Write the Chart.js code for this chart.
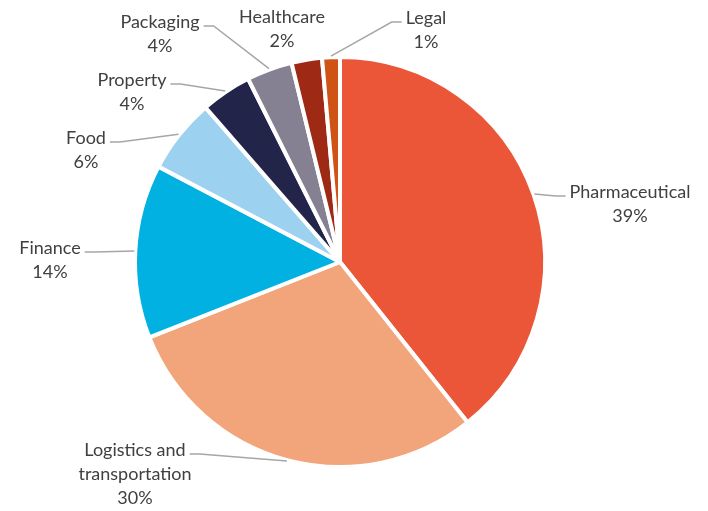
<!DOCTYPE html>
<html lang="en">
<head>
  <meta charset="UTF-8">
  <title>Sector share</title>
  <script src="https://cdn.jsdelivr.net/npm/chart.js"></script>
  <style>
    body { margin: 0; padding: 0; background: #fff; }
    .chart-box { width: 708px; height: 511px; position: relative; }
  </style>
</head>
<body>
<div class="chart-box"><canvas id="sectorChart"></canvas></div>

<script>
  // data
  const categories = ['Pharmaceutical', ['Logistics and', 'transportation'], 'Finance', 'Food', 'Property', 'Packaging', 'Healthcare', 'Legal'];
  const shares = [39.3, 29.7, 13.7, 5.9, 4.0, 3.6, 2.4, 1.4];
  const sliceColors = ['#EA5637', '#F2A47A', '#00B1E1', '#9CD2F0', '#22244A', '#858193', '#9E2A16', '#D05316'];

  // where each label sits (center of first text line) and whether it has a leader line
  const labelLayout = [
    { x: 630, y: 192, leader: true },
    { x: 135, y: 450, leader: true },
    { x: 50,  y: 248, leader: true },
    { x: 86,  y: 138, leader: true },
    { x: 132, y: 80,  leader: true },
    { x: 160, y: 22,  leader: true },
    { x: 282, y: 17,  leader: false },
    { x: 426, y: 18,  leader: true }
  ];

  const labelFont = '18px Lato';
  const lineGap = 24;

  const outsideLabels = {
    id: 'outsideLabels',
    afterDatasetsDraw(chart) {
      const ctx = chart.ctx;
      const arcs = chart.getDatasetMeta(0).data;
      const total = shares.reduce((a, b) => a + b, 0);
      ctx.save();
      ctx.font = labelFont;
      ctx.textAlign = 'center';
      ctx.textBaseline = 'middle';
      arcs.forEach((arc, i) => {
        const pos = labelLayout[i];
        const name = categories[i];
        const lines = (Array.isArray(name) ? name.slice() : [name]);
        lines.push(Math.round(shares[i] / total * 100) + '%');

        if (pos.leader) {
          const mid = (arc.startAngle + arc.endAngle) / 2;
          const r = arc.outerRadius + 1;
          const ax = arc.x + Math.cos(mid) * r;
          const ay = arc.y + Math.sin(mid) * r;
          const w = ctx.measureText(lines[0]).width;
          const onLeft = ax > pos.x;
          const ex = onLeft ? pos.x + w / 2 + 4 : pos.x - w / 2 - 4;
          const ey = pos.y + 4;
          const kx = onLeft ? ex + 10 : ex - 10;
          ctx.strokeStyle = '#A6A6A6';
          ctx.lineWidth = 1.5;
          ctx.beginPath();
          ctx.moveTo(ex, ey);
          ctx.lineTo(kx, ey);
          ctx.lineTo(ax, ay);
          ctx.stroke();
        }

        ctx.fillStyle = '#404040';
        lines.forEach((t, j) => ctx.fillText(t, pos.x, pos.y + j * lineGap));
      });
      ctx.restore();
    }
  };

  new Chart(document.getElementById('sectorChart'), {
    type: 'pie',
    data: {
      labels: categories,
      datasets: [{
        data: shares,
        backgroundColor: sliceColors,
        borderColor: '#ffffff',
        borderWidth: 4
      }]
    },
    options: {
      responsive: true,
      maintainAspectRatio: false,
      animation: false,
      layout: { padding: { left: 133, right: 161, top: 55, bottom: 42 } },
      plugins: {
        legend: { display: false },
        tooltip: { enabled: false }
      }
    },
    plugins: [outsideLabels]
  });
</script>
</body>
</html>
